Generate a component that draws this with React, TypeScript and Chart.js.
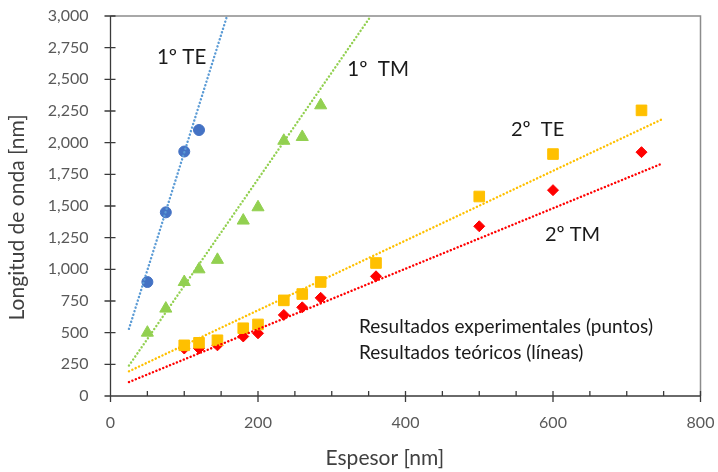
import React, { useEffect, useRef } from 'react';
import { Chart, registerables } from 'chart.js';
Chart.register(...registerables);

// ---- data ----
const te1X = [50, 75, 100, 120];
const te1Y = [900, 1450, 1930, 2100];
const tm1X = [50, 75, 100, 120, 145, 180, 200, 235, 260, 285];
const tm1Y = [500, 690, 900, 1000, 1075, 1385, 1490, 2015, 2045, 2295];
const mode2X = [100, 120, 145, 180, 200, 235, 260, 285, 360, 500, 600, 720];
const te2Y = [400, 420, 440, 535, 565, 755, 805, 900, 1050, 1575, 1910, 2255];
const tm2Y = [375, 375, 400, 470, 495, 640, 700, 775, 945, 1340, 1625, 1925];

// theoretical lines (end points)
const te1LineX = [25, 158];
const te1LineY = [530, 3000];
const tm1LineX = [25, 353];
const tm1LineY = [240, 3000];
const te2LineX = [25, 748];
const te2LineY = [195, 2185];
const tm2LineX = [25, 748];
const tm2LineY = [110, 1835];

const xMin = 0, xMax = 800, xStep = 50, xLabelStep = 200;
const yMin = 0, yMax = 3000, yStep = 250;

const xTitle = 'Espesor [nm]';
const yTitle = 'Longitud de onda [nm]';

const notes = [
  { text: '1º TE', x: 63, y: 2670, size: 20.5 },
  { text: '1º  TM', x: 321, y: 2579, size: 20.5 },
  { text: '2º  TE', x: 543, y: 2106, size: 20 },
  { text: '2º TM', x: 589, y: 1277, size: 20 },
  { text: 'Resultados experimentales (puntos)', x: 337, y: 545, size: 19 },
  { text: 'Resultados teóricos (líneas)', x: 337, y: 339, size: 19 },
];

const FONT = 'Lato';
const pts = (xs: number[], ys: number[]) => xs.map((x, i) => ({ x, y: ys[i] }));

export default function App() {
  const ref = useRef<HTMLCanvasElement>(null);
  useEffect(() => {
    const decor = {
      id: 'decor',
      afterDraw(chart: any) {
        const { ctx, chartArea: a, scales } = chart;
        const x = scales.x, y = scales.y;
        ctx.save();
        ctx.strokeStyle = '#8c8c8c';
        ctx.lineWidth = 1.5;
        ctx.beginPath();
        ctx.moveTo(a.left, a.top);
        ctx.lineTo(a.right, a.top);
        ctx.lineTo(a.right, a.bottom);
        ctx.stroke();
        ctx.strokeStyle = '#3a3a3a';
        ctx.lineWidth = 1.3;
        ctx.beginPath();
        ctx.moveTo(a.left, a.top);
        ctx.lineTo(a.left, a.bottom);
        ctx.lineTo(a.right, a.bottom);
        y.ticks.forEach((t: any) => {
          const py = y.getPixelForValue(t.value);
          ctx.moveTo(a.left - 6, py);
          ctx.lineTo(a.left + 5, py);
        });
        x.ticks.forEach((t: any) => {
          const px = x.getPixelForValue(t.value);
          const major = t.value % xLabelStep === 0;
          ctx.moveTo(px, a.bottom - 5);
          ctx.lineTo(px, a.bottom + (major ? 6 : 0));
        });
        ctx.stroke();

        // axis titles
        ctx.fillStyle = '#404040';
        ctx.font = `21px ${FONT}`;
        ctx.textAlign = 'center';
        ctx.textBaseline = 'alphabetic';
        ctx.fillText(xTitle, a.left + (a.right - a.left) * 0.465, a.bottom + 69);
        ctx.save();
        ctx.translate(a.left - 87, a.top + (a.bottom - a.top) * 0.53);
        ctx.rotate(-Math.PI / 2);
        ctx.fillText(yTitle, 0, 0);
        ctx.restore();

        // notes
        ctx.fillStyle = '#1a1a1a';
        ctx.textAlign = 'left';
        ctx.textBaseline = 'middle';
        notes.forEach((n) => {
          ctx.font = `${n.size}px ${FONT}`;
          ctx.fillText(n.text, x.getPixelForValue(n.x), y.getPixelForValue(n.y));
        });
        ctx.restore();
      },
    };

    const lineDs = (xs: number[], ys: number[], color: string) => ({
      type: 'line' as const,
      data: pts(xs, ys),
      borderColor: color,
      borderWidth: 2.4,
      borderDash: [0.1, 3.6],
      borderCapStyle: 'round',
      pointRadius: 0,
      showLine: true,
      fill: false,
    });
    const ptDs = (xs: number[], ys: number[], color: string, style: string, r: number) => ({
      type: 'scatter' as const,
      data: pts(xs, ys),
      backgroundColor: color,
      borderColor: color,
      borderWidth: 1,
      pointStyle: style,
      pointRadius: r,
      showLine: false,
    });
    const noPad = (s: any) => {
      s.paddingTop = 0;
      s.paddingBottom = 0;
      s.paddingLeft = 0;
      s.paddingRight = 0;
    };

    const chart = new Chart(ref.current!, {
      type: 'scatter',
      data: {
        datasets: [
          lineDs(te1LineX, te1LineY, '#5B9BD5'),
          lineDs(tm1LineX, tm1LineY, '#92D050'),
          lineDs(te2LineX, te2LineY, '#FFC000'),
          lineDs(tm2LineX, tm2LineY, '#FF0000'),
          ptDs(te1X, te1Y, '#4472C4', 'circle', 5.5),
          ptDs(tm1X, tm1Y, '#92D050', 'triangle', 7),
          ptDs(mode2X, te2Y, '#FFC000', 'rect', 7.5),
          ptDs(mode2X, tm2Y, '#FF0000', 'rectRot', 5.5),
        ] as any,
      },
      options: {
        responsive: false,
        animation: false,
        layout: { padding: { top: 16, right: 17.5, left: 0, bottom: 0 } },
        plugins: { legend: { display: false }, tooltip: { enabled: false } },
        scales: {
          x: {
            type: 'linear',
            min: xMin,
            max: xMax,
            grid: { display: false },
            border: { display: false },
            ticks: {
              stepSize: xStep,
              autoSkip: false,
              maxRotation: 0,
              padding: 9,
              color: '#595959',
              font: { family: FONT, size: 16 },
              callback: (v: any) => (Number(v) % xLabelStep === 0 ? String(v) : ''),
            },
            afterFit: (s: any) => {
              s.height = 76;
              noPad(s);
            },
          },
          y: {
            type: 'linear',
            min: yMin,
            max: yMax,
            grid: { display: false },
            border: { display: false },
            ticks: {
              stepSize: yStep,
              padding: 14,
              color: '#595959',
              font: { family: FONT, size: 16 },
              callback: (v: any) => Number(v).toLocaleString('en-US'),
            },
            afterFit: (s: any) => {
              s.width = 110.5;
              noPad(s);
            },
          },
        },
      },
      plugins: [decor],
    });
    return () => chart.destroy();
  }, []);

  return (
    <div style={{ position: 'fixed', left: 0, top: 0, width: 718, height: 472, background: '#fff' }}>
      <canvas ref={ref} width={718} height={472} />
    </div>
  );
}
